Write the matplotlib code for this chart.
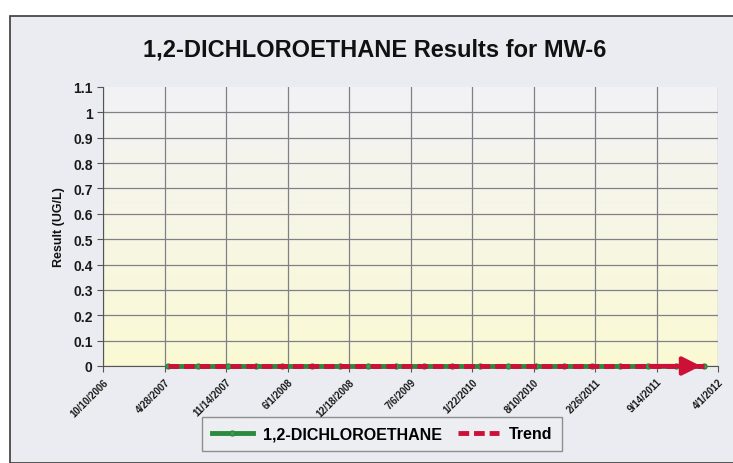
import numpy as np
import pandas as pd
import matplotlib
matplotlib.use("Agg")
import matplotlib.pyplot as plt
import matplotlib.dates as mdates
from matplotlib.patches import Rectangle

plt.rcParams['font.family'] = ['Liberation Sans', 'DejaVu Sans']

# sampling dates and results (all non-detect, plotted at 0)
sample_dates = pd.to_datetime([
    "2007-05-10", "2007-08-15", "2007-11-20", "2008-02-20", "2008-05-15",
    "2008-08-20", "2008-11-18", "2009-02-17", "2009-05-19", "2009-08-18",
    "2009-11-17", "2010-02-16", "2010-05-18", "2010-08-17", "2010-11-16",
    "2011-02-15", "2011-05-17", "2011-08-16", "2011-11-15", "2012-02-14",
])
results = [0.0] * len(sample_dates)

tick_dates = pd.to_datetime([
    "2006-10-10", "2007-04-28", "2007-11-14", "2008-06-01", "2008-12-18",
    "2009-07-06", "2010-01-22", "2010-08-10", "2011-02-26", "2011-09-14",
    "2012-04-01",
])
tick_labels = [f"{d.month}/{d.day}/{d.year}" for d in tick_dates]
y_ticks = [0, 0.1, 0.2, 0.3, 0.4, 0.5, 0.6, 0.7, 0.8, 0.9, 1.0, 1.1]

fig = plt.figure(figsize=(7.33, 4.64), dpi=100, facecolor="white")
fig.patches.append(Rectangle((10 / 733, 0), 0.99, 1 - 17 / 464, transform=fig.transFigure,
                             facecolor="#ebecf1", edgecolor="#3a3a3a", linewidth=1.2,
                             zorder=-10))

ax = fig.add_axes([103 / 733, 1 - 367 / 464, 615 / 733, 279 / 464])
ax.set_zorder(2)
ax.set_facecolor("none")

# gradient plot area: light grey-white at top to pale yellow at bottom
top = np.array([0.95, 0.95, 0.965])
bot = np.array([0.985, 0.98, 0.83])
t = np.linspace(0, 1, 256)[:, None]
grad = (top * (1 - t) + bot * t)[:, None, :]
ax.imshow(grad, extent=[0, 1, 0, 1], transform=ax.transAxes, aspect="auto", zorder=0)

x_num = mdates.date2num(sample_dates)
coef = np.polyfit(x_num, results, 1)
trend = np.polyval(coef, x_num)

ax.plot(sample_dates, results, color="#2b8a3e", linewidth=3.5, marker="o", markersize=3.5,
        markerfacecolor="#3aa050", markeredgecolor="#2b8a3e", zorder=3,
        label="1,2-DICHLOROETHANE", clip_on=False)
ax.plot(sample_dates, trend, color="#cc1038", linewidth=3.5, linestyle=(0, (2.2, 1.0)),
        zorder=4, label="Trend", clip_on=False)
ax.annotate("", xy=(sample_dates[-1], trend[-1]), xytext=(sample_dates[-3], trend[-3]),
            arrowprops=dict(arrowstyle="-|>,head_length=1.1,head_width=0.55",
                            color="#cc1038", linewidth=3), zorder=5, annotation_clip=False)

ax.set_xlim(tick_dates[0], tick_dates[-1])
ax.set_ylim(0, 1.1)
ax.set_xticks(tick_dates)
ax.set_xticklabels(tick_labels, rotation=45, ha="right", rotation_mode="anchor",
                   fontsize=7, fontweight="bold", color="#1a1a1a")
ax.set_yticks(y_ticks)
ax.set_yticklabels([f"{v:g}" for v in y_ticks], fontsize=10, fontweight="bold", color="#1a1a1a")
ax.tick_params(axis="both", length=4, color="#555555", width=0.8)

ax.grid(True, color="#808088", linewidth=0.9, zorder=1)
ax.set_axisbelow(True)
ax.yaxis.get_gridlines()[-1].set_visible(False)
for side in ["top", "right"]:
    ax.spines[side].set_visible(False)
for side in ["left", "bottom"]:
    ax.spines[side].set_color("#555555")
    ax.spines[side].set_linewidth(0.8)

ax.set_ylabel("Result (UG/L)", fontsize=9, fontweight="bold", color="#111111", labelpad=6)
fig.text(375 / 733, 1 - 50 / 464, "1,2-DICHLOROETHANE Results for MW-6", ha="center",
         va="center", fontsize=17, fontweight="bold", color="#111111")

leg = fig.legend(loc="center", bbox_to_anchor=(382 / 733, 1 - 435 / 464), ncol=2,
                 prop={"size": 11.5, "weight": "bold"}, frameon=True, fancybox=False,
                 handlelength=2.6, columnspacing=1.0, borderpad=0.6, handletextpad=0.6)
leg.get_frame().set_facecolor("#eeeff3")
leg.get_frame().set_edgecolor("#777777")

fig.savefig("out.png", dpi=100, facecolor=fig.get_facecolor())
